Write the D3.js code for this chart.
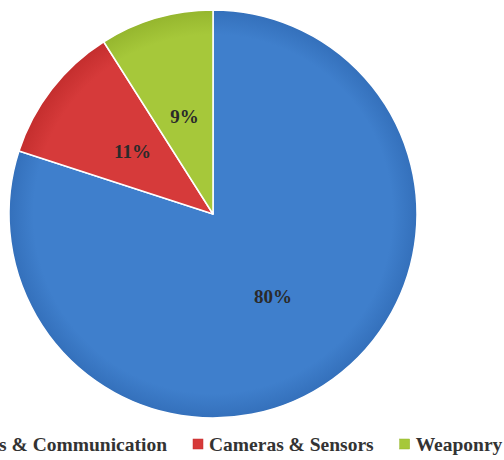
<!DOCTYPE html>
<html><head><meta charset="utf-8">
<script src="https://cdn.jsdelivr.net/npm/d3@7"></script>
<style>html,body{margin:0;padding:0;background:#fff;overflow:hidden}</style>
</head><body>
<svg id="chart" width="504" height="460"></svg>
<script>
const categories = ["Electronics & Communication", "Cameras & Sensors", "Weaponry"];
const values = [80, 11, 9];
const labels = ["80%", "11%", "9%"];
const colors = ["#3f7fcc", "#d63a3a", "#a6c83a"];
const edgeColors = ["#3470bb", "#c42e2e", "#95b62e"];

const svg = d3.select("#chart");
const cx = 213, cy = 214, R = 204;
const defs = svg.append("defs");
colors.forEach((c, i) => {
  const g = defs.append("radialGradient").attr("id", "g" + i)
    .attr("gradientUnits", "userSpaceOnUse").attr("cx", 0).attr("cy", 0).attr("r", R);
  g.append("stop").attr("offset", "0%").attr("stop-color", c);
  g.append("stop").attr("offset", "88%").attr("stop-color", c);
  g.append("stop").attr("offset", "100%").attr("stop-color", edgeColors[i]);
});

const pie = d3.pie().sort(null).value(d => d)(values);
const arc = d3.arc().innerRadius(0).outerRadius(R);
const g = svg.append("g").attr("transform", `translate(${cx},${cy})`);
g.selectAll("path.slice").data(pie).join("path").attr("class", "slice")
  .attr("d", arc).attr("fill", (d, i) => `url(#g${i})`)
  .attr("stroke", "#fff").attr("stroke-width", 1.5).attr("stroke-linejoin", "round");

const labelArc = d3.arc().innerRadius(0).outerRadius(R);
g.selectAll("text.lbl").data(pie).join("text").attr("class", "lbl")
  .attr("transform", d => { const c = labelArc.centroid(d); return `translate(${c[0]},${c[1]})`; })
  .attr("text-anchor", "middle").attr("dominant-baseline", "central")
  .attr("font-family", "Liberation Serif, Times New Roman, serif")
  .attr("font-weight", "bold").attr("font-size", 19).attr("fill", "#2a2a2a")
  .text((d, i) => labels[i]);

// legend
const leg = svg.append("g").attr("font-family", "Liberation Serif, Times New Roman, serif")
  .attr("font-weight", "bold").attr("font-size", 19.5).attr("fill", "#333");
const sq = 10, gapSq = 6, gapItem = 26;
const tmp = leg.append("text").text(categories[0]);
const w0 = tmp.node().getComputedTextLength();
tmp.remove();
let x = 193 - gapItem - w0 - gapSq - sq;
const ly = 451;
categories.forEach((c, i) => {
  leg.append("rect").attr("x", x).attr("y", ly - 12).attr("width", sq).attr("height", sq)
    .attr("fill", colors[i]).attr("stroke", edgeColors[i]).attr("stroke-width", 0.5);
  const t = leg.append("text").attr("x", x + sq + gapSq).attr("y", ly).text(c);
  x += sq + gapSq + t.node().getComputedTextLength() + gapItem;
});
</script>
</body></html>
